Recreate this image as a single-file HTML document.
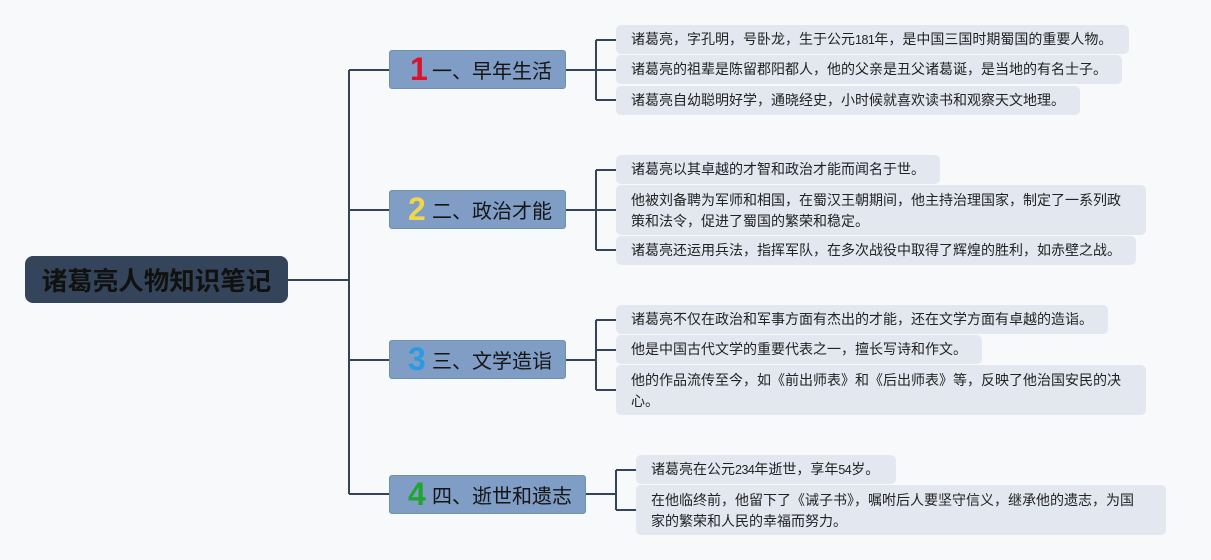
<!DOCTYPE html>
<html>
<head>
<meta charset="utf-8">
<style>
  html, body { margin:0; padding:0; }
  body { width:1211px; height:560px; background:#f8f9fb; position:relative; overflow:hidden;
         font-family:"Liberation Sans","Noto Sans CJK SC",sans-serif; }
  svg { position:absolute; left:0; top:0; }
  .root { position:absolute; left:25px; top:256px; width:263px; height:47px; background:#34455b;
          border-radius:8px; color:#111; font-weight:bold; font-size:25.5px; line-height:47px;
          text-align:center; white-space:nowrap; font-family:"Noto Sans CJK SC",sans-serif; }
  .br { position:absolute; left:389px; width:175px; height:37px; background:#7f9dc5;
        border:1px solid #6a93a8; border-radius:3px; white-space:nowrap; }
  .br .n { position:absolute; top:0; font-family:"Liberation Sans",sans-serif; font-weight:bold;
           font-size:32px; line-height:37px; }
  .br .t { position:absolute; left:42px; top:0; font-size:20px; line-height:37px; color:#151515;
           font-family:"Noto Sans CJK SC",sans-serif; }
  .lf { position:absolute; background:#e3e8f0; border-radius:5px; color:#222; font-size:14px;
        line-height:21px; white-space:nowrap; box-sizing:border-box; padding-left:15px; }
  .s1 { height:29px; padding-top:4px; }
  .s2 { height:50px; padding-top:5px; }
  .d { font-family:"Liberation Sans",sans-serif; font-size:12.5px; letter-spacing:-0.5px; }
</style>
</head>
<body>
<svg width="1211" height="560" viewBox="0 0 1211 560">
  <g stroke="#34445a" stroke-width="2" fill="none">
    <path d="M288 280 H349"/>
    <path d="M349 70 V494"/>
    <path d="M349 70 H389 M349 210 H389 M349 360 H389 M349 494 H389"/>
    <path d="M566 70 H596 M596 40 V100 M596 40 H616 M596 70 H616 M596 100 H616"/>
    <path d="M566 210 H596 M596 170 V250 M596 170 H616 M596 210 H616 M596 250 H616"/>
    <path d="M566 360 H596 M596 320 V390 M596 320 H616 M596 350 H616 M596 390 H616"/>
    <path d="M586 494 H616 M616 470 V510 M616 470 H636 M616 510 H636"/>
  </g>
</svg>

<div class="root">诸葛亮人物知识笔记</div>

<div class="br" style="top:50px;"><span class="n" style="left:20px;color:#d8132c;">1</span><span class="t">一、早年生活</span></div>
<div class="br" style="top:190px;"><span class="n" style="left:18px;color:#f2d64a;">2</span><span class="t">二、政治才能</span></div>
<div class="br" style="top:340px;"><span class="n" style="left:18px;color:#2a9be0;">3</span><span class="t">三、文学造诣</span></div>
<div class="br" style="top:475px;width:195px;"><span class="n" style="left:18px;color:#21a530;">4</span><span class="t">四、逝世和遗志</span></div>

<!-- Group 1 -->
<div class="lf s1" style="left:616px;top:25px;width:513px;">诸葛亮，字孔明，号卧龙，生于公元<span class="d">181</span>年，是中国三国时期蜀国的重要人物。</div>
<div class="lf s1" style="left:616px;top:55px;width:506px;">诸葛亮的祖辈是陈留郡阳都人，他的父亲是丑父诸葛诞，是当地的有名士子。</div>
<div class="lf s1" style="left:616px;top:86px;width:464px;">诸葛亮自幼聪明好学，通晓经史，小时候就喜欢读书和观察天文地理。</div>

<!-- Group 2 -->
<div class="lf s1" style="left:616px;top:155px;width:324px;">诸葛亮以其卓越的才智和政治才能而闻名于世。</div>
<div class="lf s2" style="left:616px;top:185px;width:530px;">他被刘备聘为军师和相国，在蜀汉王朝期间，他主持治理国家，制定了一系列政<br>策和法令，促进了蜀国的繁荣和稳定。</div>
<div class="lf s1" style="left:616px;top:236px;width:520px;">诸葛亮还运用兵法，指挥军队，在多次战役中取得了辉煌的胜利，如赤壁之战。</div>

<!-- Group 3 -->
<div class="lf s1" style="left:616px;top:305px;width:492px;">诸葛亮不仅在政治和军事方面有杰出的才能，还在文学方面有卓越的造诣。</div>
<div class="lf s1" style="left:616px;top:335px;width:366px;">他是中国古代文学的重要代表之一，擅长写诗和作文。</div>
<div class="lf s2" style="left:616px;top:365px;width:530px;">他的作品流传至今，如《前出师表》和《后出师表》等，反映了他治国安民的决<br>心。</div>

<!-- Group 4 -->
<div class="lf s1" style="left:636px;top:455px;width:260px;">诸葛亮在公元<span class="d">234</span>年逝世，享年<span class="d">54</span>岁。</div>
<div class="lf s2" style="left:636px;top:485px;width:530px;">在他临终前，他留下了《诫子书》，嘱咐后人要坚守信义，继承他的遗志，为国<br>家的繁荣和人民的幸福而努力。</div>

</body>
</html>
